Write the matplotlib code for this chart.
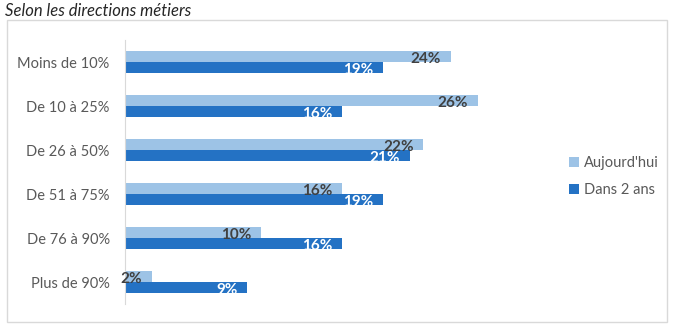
import matplotlib.pyplot as plt
import matplotlib.patches as mpatches
import numpy as np

plt.rcParams['font.family'] = ['Lato', 'DejaVu Sans']

categories = ['Moins de 10%', 'De 10 à 25%', 'De 26 à 50%', 'De 51 à 75%', 'De 76 à 90%', 'Plus de 90%']
aujourdhui = [24, 26, 22, 16, 10, 2]
dans_2_ans = [19, 16, 21, 19, 16, 9]
series_names = ["Aujourd'hui", 'Dans 2 ans']

light = '#9DC3E6'
dark = '#2472C4'

fig = plt.figure(figsize=(6.76, 3.29), dpi=100)
fig.patches.append(mpatches.Rectangle((7 / 676, 7 / 329), 660 / 676, 302 / 329,
                                      transform=fig.transFigure, fill=False,
                                      edgecolor='#d9d9d9', linewidth=1))
ax = fig.add_axes([125 / 676, 25 / 329, 407 / 676, 264 / 329])

y = np.arange(len(categories))
h = 0.25
b1 = ax.barh(y - h / 2, aujourdhui, height=h, color=light, label=series_names[0])
b2 = ax.barh(y + h / 2, dans_2_ans, height=h, color=dark, label=series_names[1])

for bars, vals, col in [(b1, aujourdhui, '#404040'), (b2, dans_2_ans, 'white')]:
    for bar, v in zip(bars, vals):
        ax.annotate(f'{v}%', (v, bar.get_y() + bar.get_height() / 2),
                    xytext=(-7, -1.5), textcoords='offset points',
                    ha='right', va='center', fontsize=11, fontweight='bold', color=col)

ax.set_xlim(0, 30)
ax.set_ylim(len(categories) - 0.5, -0.5)
ax.set_yticks(y)
ax.set_yticklabels(categories, fontsize=10.5, color='#595959')
ax.tick_params(axis='y', length=0, pad=11)
ax.set_xticks([])
for s in ['top', 'right', 'bottom']:
    ax.spines[s].set_visible(False)
ax.spines['left'].set_color('#d9d9d9')

fig.legend(handles=[b1, b2], labels=series_names, loc='upper left',
           bbox_to_anchor=(556 / 676, 1 - 143 / 329), frameon=False,
           fontsize=10.5, labelcolor='#595959', handlelength=0.7, handleheight=0.7,
           handletextpad=0.3, labelspacing=0.9)

fig.text(5 / 676, 1 - 11 / 329, 'Selon les directions métiers', fontsize=12,
         style='italic', color='#262626', va='center', ha='left')

fig.savefig('out.png', dpi=100)
